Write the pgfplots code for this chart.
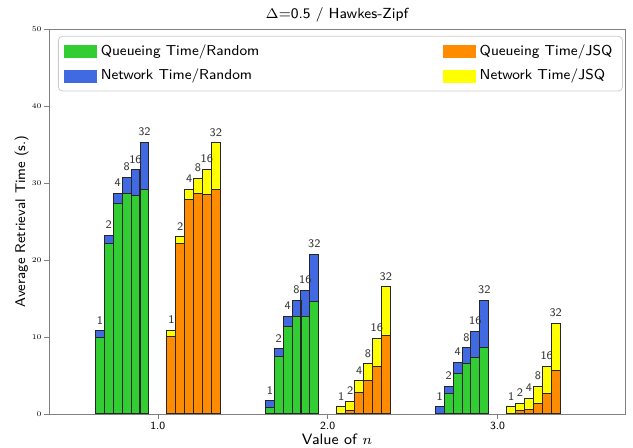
\documentclass[border=0pt]{standalone}
\usepackage{pgfplots}
\pgfplotsset{compat=1.18}
\usepackage{pgfplotstable}
\definecolor{cgreen}{HTML}{32CD32}
\definecolor{cblue}{HTML}{4169E1}
\definecolor{corange}{HTML}{FF8C00}
\definecolor{cyellow}{HTML}{FFFF00}
\definecolor{cedge}{HTML}{262626}

% Random policy: x position, queueing time, network time, label
\pgfplotstableread{
x     q     net   lab
0.660 9.9   0.9   1
0.712 22.2  1.0   2
0.765 27.4  1.3   4
0.817 28.7  2.0   8
0.869 28.4  3.3   16
0.922 29.1  6.2   32
1.660 0.87  0.86  1
1.712 7.45  1.05  2
1.765 11.3  1.4   4
1.817 12.7  2.1   8
1.869 12.7  3.4   16
1.922 14.6  6.1   32
2.660 0.05  0.9   1
2.712 2.6   1.0   2
2.765 5.3   1.45  4
2.817 6.5   2.1   8
2.869 7.3   3.4   16
2.922 8.6   6.2   32
}\randtab

% JSQ policy
\pgfplotstableread{
x     q     net   lab
1.080 10.0  0.9   1
1.132 22.2  0.8   2
1.185 27.9  1.3   4
1.237 28.6  2.0   8
1.289 28.5  3.3   16
1.342 29.1  6.1   32
2.080 0.1   0.85  1
2.132 0.5   1.15  2
2.185 2.8   1.5   4
2.237 4.4   2.1   8
2.289 6.2   3.6   16
2.342 10.2  6.3   32
3.080 0.05  0.9   1
3.132 0.4   1.0   2
3.185 0.6   1.45  4
3.237 1.4   2.15  8
3.289 2.7   3.5   16
3.342 5.6   6.2   32
}\jsqtab

\begin{document}
\begin{tikzpicture}
\begin{axis}[
  name=ax,
  width=288pt, height=192.5pt, scale only axis,
  xmin=0.36, xmax=3.75, ymin=0, ymax=50,
  xtick={1,2,3}, xticklabels={1.0,2.0,3.0},
  ytick={0,10,20,30,40,50},
  /pgf/number format/assume math mode=true,
  tick align=outside, xtick pos=bottom, ytick pos=left,
  major tick length=2.5pt,
  axis line style={black!50},
  tick style={black!50},
  yticklabel style={font=\rmfamily\fontsize{3.6}{4}\selectfont, inner sep=1pt},
  xticklabel style={font=\sffamily\fontsize{5.5}{6}\selectfont, inner sep=1.5pt},
  title={$\Delta$=0.5 / Hawkes-Zipf},
  title style={font=\sffamily\fontsize{7.3}{8.8}\selectfont, yshift=-6pt},
  xlabel={Value of $n$},
  ylabel={Average Retrieval Time (s.)},
  xlabel style={font=\sffamily\fontsize{7.5}{9}\selectfont, yshift=3pt},
  ylabel style={font=\sffamily\fontsize{7}{8.4}\selectfont, yshift=-3pt},
  bar width=0.0523,
  legend columns=2,
  legend cell align=left,
  legend image code/.code={\fill[#1, sharp corners] (0pt,-3pt) rectangle (15.8pt,3pt);},
  legend style={
    at={(0.0156,0.982)}, anchor=north west,
    draw=black!20, rounded corners=2pt, fill=white,
    font=\sffamily\fontsize{7.2}{8.6}\selectfont,
    /tikz/column 2/.style={column sep=90pt},
    row sep=1.5pt,
  },
  nodes near coords style={font=\sffamily\fontsize{5.8}{6.5}\selectfont, text=black!80, inner sep=1.5pt, yshift=1.5pt},
]
% Random: total height (network on top of queueing), then queueing
\addplot[ybar, forget plot, fill=cblue, draw=cedge, line width=0.5pt,
  nodes near coords, point meta=explicit symbolic]
  table[x=x, y expr=\thisrow{q}+\thisrow{net}, meta=lab] {\randtab};
\addplot[ybar, forget plot, fill=cgreen, draw=cedge, line width=0.5pt]
  table[x=x, y=q] {\randtab};
% JSQ
\addplot[ybar, forget plot, fill=cyellow, draw=cedge, line width=0.5pt,
  nodes near coords, point meta=explicit symbolic]
  table[x=x, y expr=\thisrow{q}+\thisrow{net}, meta=lab] {\jsqtab};
\addplot[ybar, forget plot, fill=corange, draw=cedge, line width=0.5pt]
  table[x=x, y=q] {\jsqtab};

\addlegendimage{cgreen}
\addlegendentry{Queueing Time/Random}
\addlegendimage{corange}
\addlegendentry{Queueing Time/JSQ}
\addlegendimage{cblue}
\addlegendentry{Network Time/Random}
\addlegendimage{cyellow}
\addlegendentry{Network Time/JSQ}
\end{axis}
\path (ax.south west) ++(-24.5pt,-17pt) coordinate (bl);
\path (ax.north east) ++(4pt,14.5pt) coordinate (tr);
\pgfresetboundingbox
\useasboundingbox (bl) rectangle (tr);
\end{tikzpicture}
\end{document}
